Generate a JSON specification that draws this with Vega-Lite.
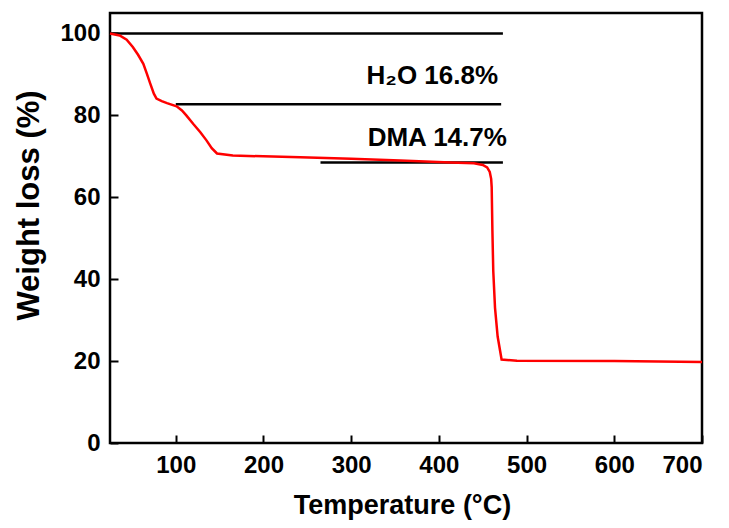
{
  "$schema": "https://vega.github.io/schema/vega-lite/v6.json",
  "autosize": "none",
  "padding": {"left": 110, "top": 13, "right": 27, "bottom": 85},
  "width": 592,
  "height": 430,
  "background": "white",
  "config": {
    "view": {"stroke": "black", "strokeWidth": 2.5},
    "font": "Liberation Sans",
    "axis": {
      "grid": false,
      "domain": false,
      "tickColor": "black",
      "tickWidth": 2,
      "tickSize": -8,
      "labelFont": "Liberation Sans",
      "labelFontSize": 24,
      "labelFontWeight": "bold",
      "labelColor": "black",
      "titleFont": "Liberation Sans",
      "titleFontWeight": "bold",
      "titleColor": "black"
    }
  },
  "datasets": {
    "curve": [
      {"t": 25, "w": 100},
      {"t": 36, "w": 99.5},
      {"t": 44, "w": 98.5},
      {"t": 51, "w": 96.7},
      {"t": 57, "w": 94.8},
      {"t": 63, "w": 92.6},
      {"t": 67, "w": 90.2},
      {"t": 71, "w": 87.7},
      {"t": 75, "w": 85.3},
      {"t": 78, "w": 84.1},
      {"t": 84, "w": 83.5},
      {"t": 90, "w": 83.0},
      {"t": 101, "w": 82.2},
      {"t": 107, "w": 81.2},
      {"t": 112, "w": 80.0},
      {"t": 120, "w": 77.9},
      {"t": 128, "w": 75.9},
      {"t": 135, "w": 73.9},
      {"t": 141, "w": 72.0},
      {"t": 147, "w": 70.7},
      {"t": 165, "w": 70.2},
      {"t": 200, "w": 70.0},
      {"t": 242, "w": 69.8},
      {"t": 300, "w": 69.4},
      {"t": 356, "w": 69.0},
      {"t": 413, "w": 68.5},
      {"t": 440, "w": 68.3},
      {"t": 450, "w": 67.9},
      {"t": 455, "w": 67.3},
      {"t": 458, "w": 66.2},
      {"t": 459.6, "w": 64.5},
      {"t": 460.2, "w": 62.5},
      {"t": 461, "w": 52},
      {"t": 462, "w": 42},
      {"t": 464, "w": 33},
      {"t": 467, "w": 26},
      {"t": 471.5, "w": 20.4},
      {"t": 489, "w": 20.1},
      {"t": 600, "w": 20.0},
      {"t": 700, "w": 19.8}
    ],
    "rules": [
      {"x1": 25, "x2": 473, "y": 100},
      {"x1": 100, "x2": 471, "y": 82.7},
      {"x1": 265, "x2": 473, "y": 68.5}
    ],
    "labels": [
      {"x": 467.5, "y": 89.6, "label": "H₂O 16.8%"},
      {"x": 477.5, "y": 74.4, "label": "DMA 14.7%"}
    ]
  },
  "layer": [
    {
      "data": {"name": "rules"},
      "mark": {"type": "rule", "color": "black", "strokeWidth": 2.5},
      "encoding": {
        "x": {"field": "x1", "type": "quantitative", "scale": {"domain": [25, 700], "nice": false, "zero": false},
              "axis": {"values": [100, 200, 300, 400, 500, 600, 700], "title": "Temperature (°C)", "titleFontSize": 27, "titleX": 292, "labelPadding": 18, "titlePadding": 15}},
        "x2": {"field": "x2"},
        "y": {"field": "y", "type": "quantitative", "scale": {"domain": [0, 105], "nice": false},
              "axis": {"values": [0, 20, 40, 60, 80, 100], "title": "Weight loss (%)", "titleFontSize": 31, "titleY": 192, "labelPadding": 18, "titlePadding": 14}}
      }
    },
    {
      "data": {"name": "curve"},
      "mark": {"type": "line", "color": "#ff0000", "strokeWidth": 2.5},
      "encoding": {
        "x": {"field": "t", "type": "quantitative"},
        "y": {"field": "w", "type": "quantitative"}
      }
    },
    {
      "data": {"name": "labels"},
      "mark": {"type": "text", "align": "right", "baseline": "middle", "fontSize": 26, "fontWeight": "bold", "font": "Liberation Sans", "color": "black"},
      "encoding": {
        "x": {"field": "x", "type": "quantitative"},
        "y": {"field": "y", "type": "quantitative"},
        "text": {"field": "label"}
      }
    }
  ]
}
